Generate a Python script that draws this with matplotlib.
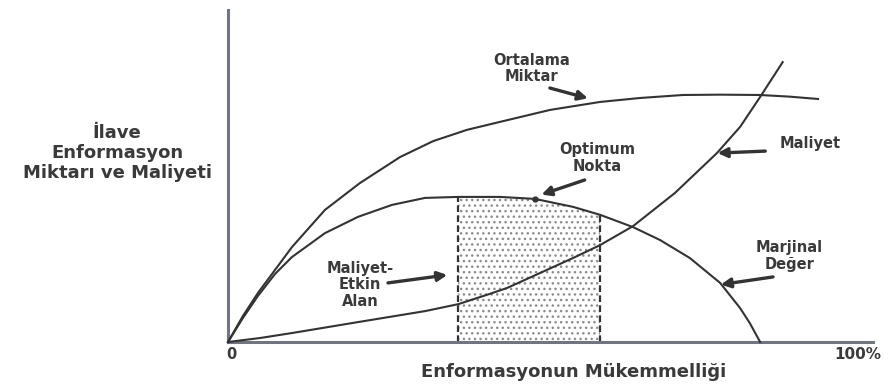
import numpy as np
import matplotlib
matplotlib.use("Agg")
import matplotlib.pyplot as plt

# curves (x: % of perfection, y: relative amount)
avg_x = [0, 2.3, 4.65, 9.92, 15.04, 20.47, 26.67, 31.8, 37.05, 42.17, 49.92,
         57.67, 63.9, 70.54, 76.3, 82.48, 87.1, 91.47]
avg_y = [0, 7.8, 14.8, 28.6, 39.8, 47.9, 55.7, 60.5, 63.9, 66.3, 69.9,
         72.3, 73.5, 74.4, 74.5, 74.4, 73.9, 73.2]

marg_x = [0, 2.3, 4.65, 7.29, 9.92, 15.04, 20.16, 25.43, 30.54, 35.7, 42.17,
          47.6, 53.5, 57.7, 62.8, 67.0, 71.6, 76.3, 79.4, 80.9, 82.5]
marg_y = [0, 7.2, 13.9, 20.5, 25.6, 32.8, 37.7, 41.3, 43.4, 43.7, 43.7,
          43.1, 40.7, 38.3, 34.6, 30.7, 25.3, 17.8, 10.2, 5.7, 0]

cost_x = [0, 4.96, 9.92, 20.16, 30.54, 35.7, 40.6, 43.3, 48.4, 53.5, 57.7,
          62.8, 69.3, 75.8, 79.4, 82.5, 86.0]
cost_y = [0, 1.2, 2.7, 6.0, 9.3, 11.4, 14.5, 16.3, 20.8, 25.3, 29.2,
          34.9, 44.9, 56.9, 64.8, 73.8, 84.3]

optimum = (47.6, 43.1)
region = (35.7, 57.7)

x_ticks = ["0", "100%"]
x_title = "Enformasyonun Mükemmelliği"
y_title = "İlave\nEnformasyon\nMiktarı ve Maliyeti"

ink = "#333333"
txt = "#3a3a3a"
plt.rcParams["font.family"] = ["DejaVu Sans"]
plt.rcParams["hatch.linewidth"] = 1.0

fig = plt.figure(figsize=(8.88, 3.85), dpi=100)
ax = fig.add_axes([228 / 888, 43 / 385, 645 / 888, 332 / 385])
ax.set_xlim(0, 100)
ax.set_ylim(0, 100)
for s in ["top", "right"]:
    ax.spines[s].set_visible(False)
for s in ["left", "bottom"]:
    ax.spines[s].set_color("#6f7585")
    ax.spines[s].set_linewidth(2.2)
ax.set_xticks([])
ax.set_yticks([])

# cost-effective area
mx = np.array(marg_x)
my = np.array(marg_y)
sel = (mx >= region[0]) & (mx <= region[1])
ax.fill_between(mx[sel], 0, my[sel], facecolor="white", edgecolor="#8c8c8c",
                hatch="...", linewidth=0, zorder=1)
for xr in region:
    top = my[mx == xr][0]
    ax.plot([xr, xr], [0, top], ls=(0, (3, 1.5)), color=ink, lw=1.6, zorder=2)

ax.plot(avg_x, avg_y, color=ink, lw=1.5, zorder=3, clip_on=False)
ax.plot(marg_x, marg_y, color=ink, lw=1.5, zorder=3, clip_on=False)
ax.plot(cost_x, cost_y, color=ink, lw=1.5, zorder=3, clip_on=False)
ax.plot(*optimum, "o", color=ink, ms=3.5, zorder=4)

arrow = dict(arrowstyle="-|>", color=ink, lw=2.4, mutation_scale=14,
             shrinkA=0, shrinkB=0)
tk = dict(ha="center", va="center", fontsize=10.5, fontweight="bold",
          color=txt, linespacing=1.15)

ax.text(47.1, 82.4, "Ortalama\nMiktar", **tk)
ax.annotate("", xy=(55.8, 73.4), xytext=(49.9, 76.5), arrowprops=arrow)

ax.text(57.2, 55.4, "Optimum\nNokta", **tk)
ax.annotate("", xy=(48.6, 44.4), xytext=(55.3, 48.8), arrowprops=arrow)

ax.text(90.2, 59.9, "Maliyet", **tk)
ax.annotate("", xy=(75.9, 56.9), xytext=(83.3, 57.5), arrowprops=arrow)

ax.text(87.0, 25.9, "Marjinal\nDeğer", **tk)
ax.annotate("", xy=(76.4, 17.3), xytext=(84.5, 19.6), arrowprops=arrow)

ax.text(20.5, 17.2, "Maliyet-\nEtkin\nAlan", **tk)
ax.annotate("", xy=(34.0, 20.2), xytext=(24.8, 17.8), arrowprops=arrow)

ax.text(0.6, -3.9, x_ticks[0], ha="center", va="center", fontsize=10.5,
        fontweight="bold", color=txt, clip_on=False)
ax.text(97.7, -3.9, x_ticks[1], ha="center", va="center", fontsize=11,
        fontweight="bold", color=txt, clip_on=False)
ax.text(53.6, -9.0, x_title, ha="center", va="center", fontsize=13,
        fontweight="bold", color=txt, clip_on=False)
ax.text(-17.2, 56.9, y_title, ha="center", va="center", fontsize=13,
        fontweight="bold", color=txt, linespacing=1.15, clip_on=False)

fig.savefig("out.png", dpi=100)
